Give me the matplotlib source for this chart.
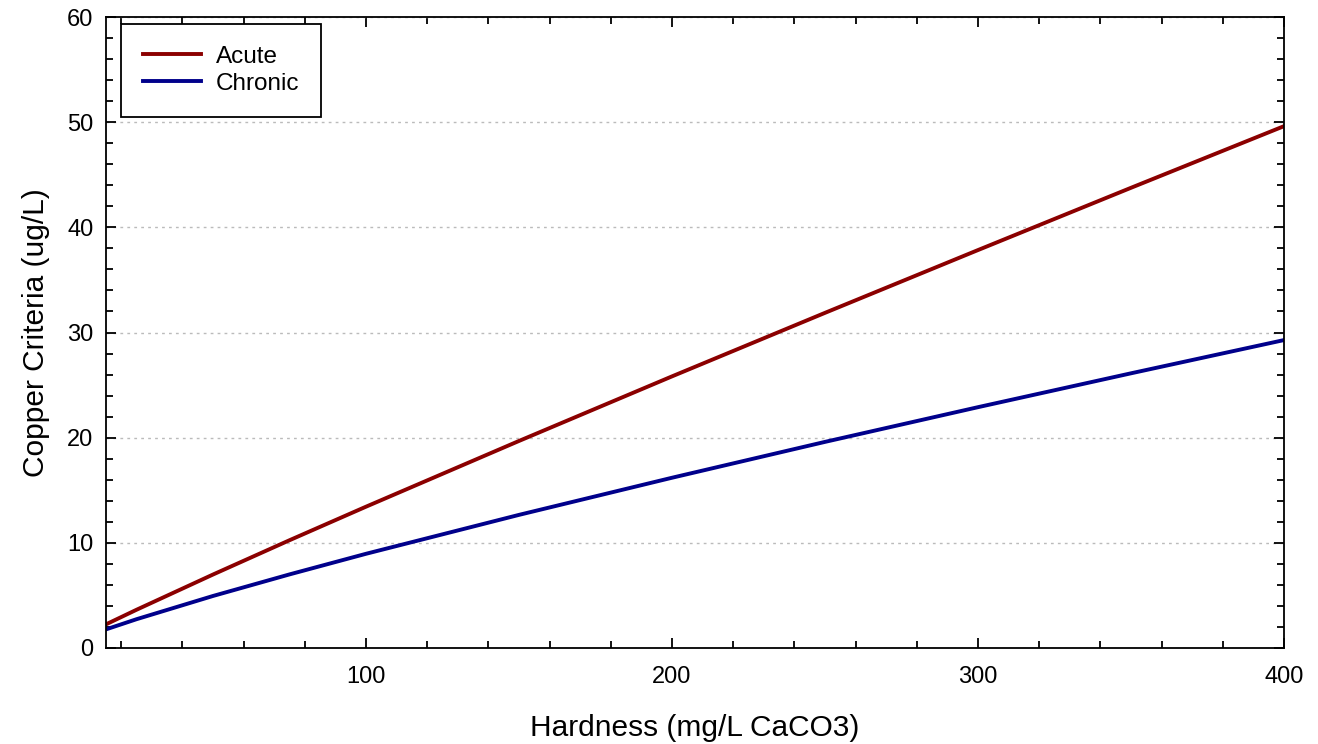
import matplotlib
matplotlib.use("Agg")
from matplotlib import pyplot as plt
from matplotlib.ticker import MultipleLocator

# Datos
hardness = [15, 25, 50, 75, 100, 150, 200, 250, 300, 350, 400]
acute = [2.25, 3.64, 6.99, 10.25, 13.44, 19.69, 25.83, 31.87, 37.84, 43.76, 49.62]
chronic = [1.77, 2.74, 4.95, 7.00, 8.96, 12.66, 16.19, 19.60, 22.90, 26.12, 29.28]

plt.rcParams['font.family'] = ['Liberation Sans', 'DejaVu Sans']

fig = plt.figure(figsize=(13.18, 7.44), dpi=100)
ax = fig.add_axes([106 / 1318, 1 - 648 / 744, (1284 - 106) / 1318, (648 - 17) / 744])

ax.plot(hardness, acute, color="#8b0000", linewidth=2.8, label="Acute")
ax.plot(hardness, chronic, color="#00008b", linewidth=2.8, label="Chronic")

ax.set_xlim(15, 400)
ax.set_ylim(0, 60)
ax.xaxis.set_major_locator(MultipleLocator(100))
ax.xaxis.set_minor_locator(MultipleLocator(20))
ax.yaxis.set_major_locator(MultipleLocator(10))
ax.yaxis.set_minor_locator(MultipleLocator(2))
ax.tick_params(which="both", direction="in", top=True, right=True, width=1.3, labelsize=17)
ax.tick_params(which="major", length=7.5)
ax.tick_params(which="minor", length=5)
ax.tick_params(axis="x", which="major", pad=13)
ax.tick_params(axis="y", which="major", pad=9)
for s in ax.spines.values():
    s.set_linewidth(1.3)

ax.grid(axis="y", which="major", linestyle=(0, (2, 3)), color="#bbbbbb", linewidth=1)

ax.set_xlabel("Hardness (mg/L CaCO3)", fontsize=21.5, labelpad=19)
ax.set_ylabel("Copper Criteria (ug/L)", fontsize=21.5, labelpad=12)

leg = ax.legend(loc="upper left", fontsize=17.5, fancybox=False, framealpha=1,
                edgecolor="black", borderpad=0.9, handlelength=2.4,
                labelspacing=0.2, handletextpad=0.6, borderaxespad=0,
                bbox_to_anchor=(15 / 1178, 1 - 7 / 631))
leg.get_frame().set_linewidth(1.3)

fig.savefig("out.png", dpi=100)
